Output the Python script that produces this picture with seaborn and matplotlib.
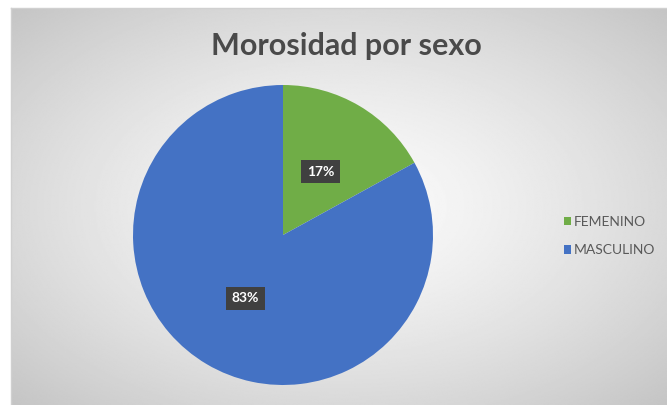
import matplotlib
matplotlib.use("Agg")
import matplotlib.pyplot as plt
import seaborn as sns
import numpy as np

# data
sexos = ["FEMENINO", "MASCULINO"]
porcentajes = [17, 83]
colores = ["#70AD47", "#4472C4"]

sns.set_style("white")
plt.rcParams['font.family'] = ['Lato', 'DejaVu Sans']

W, H = 667, 405
fig = plt.figure(figsize=(W / 100, H / 100), dpi=100)
fig.patch.set_facecolor("white")

# background of the chart area: radial gradient white -> grey
bg = fig.add_axes([11 / W, 0, 1 - 11 / W, 1 - 8 / H])
yy, xx = np.mgrid[-1:1:300j, -1:1:500j]
rr = np.sqrt(xx ** 2 + yy ** 2) / np.sqrt(2)
shade = 0.99 - 0.22 * rr ** 1.3
bg.imshow(shade, cmap="gray", vmin=0, vmax=1, aspect="auto",
          extent=[0, 1, 0, 1], interpolation="bilinear")
bg.set_xticks([])
bg.set_yticks([])
for side in ["right", "bottom"]:
    bg.spines[side].set_visible(False)
for side in ["top", "left"]:
    bg.spines[side].set_color("#d0d0d0")
    bg.spines[side].set_linewidth(1)

# pie
ax = fig.add_axes([133 / W, 20 / H, 300 / W, 300 / H])
wedges, texts, autotexts = ax.pie(
    porcentajes, colors=colores, startangle=90, counterclock=False,
    autopct="%1.0f%%", pctdistance=0.49,
    wedgeprops=dict(linewidth=0),
    textprops=dict(color="white", fontsize=10, fontweight="bold"))
for t in autotexts:
    t.set_bbox(dict(boxstyle="square,pad=0.4", facecolor="#404040", edgecolor="none"))
ax.set_aspect("equal")
ax.set_xlim(-1, 1)
ax.set_ylim(-1, 1)
ax.axis("off")

fig.text(346 / W, 1 - 55 / H, "Morosidad por sexo", ha="center", va="baseline",
         fontsize=22, fontweight="bold", color="#4a4a4a")

leg = fig.legend(wedges, sexos, loc="center left", bbox_to_anchor=(551 / W, 1 - 236 / H),
                 frameon=False, fontsize=10, handlelength=0.55, handleheight=0.55,
                 handletextpad=0.2, labelspacing=1.2)
for t in leg.get_texts():
    t.set_color("#595959")

fig.savefig("out.png", dpi=100)
